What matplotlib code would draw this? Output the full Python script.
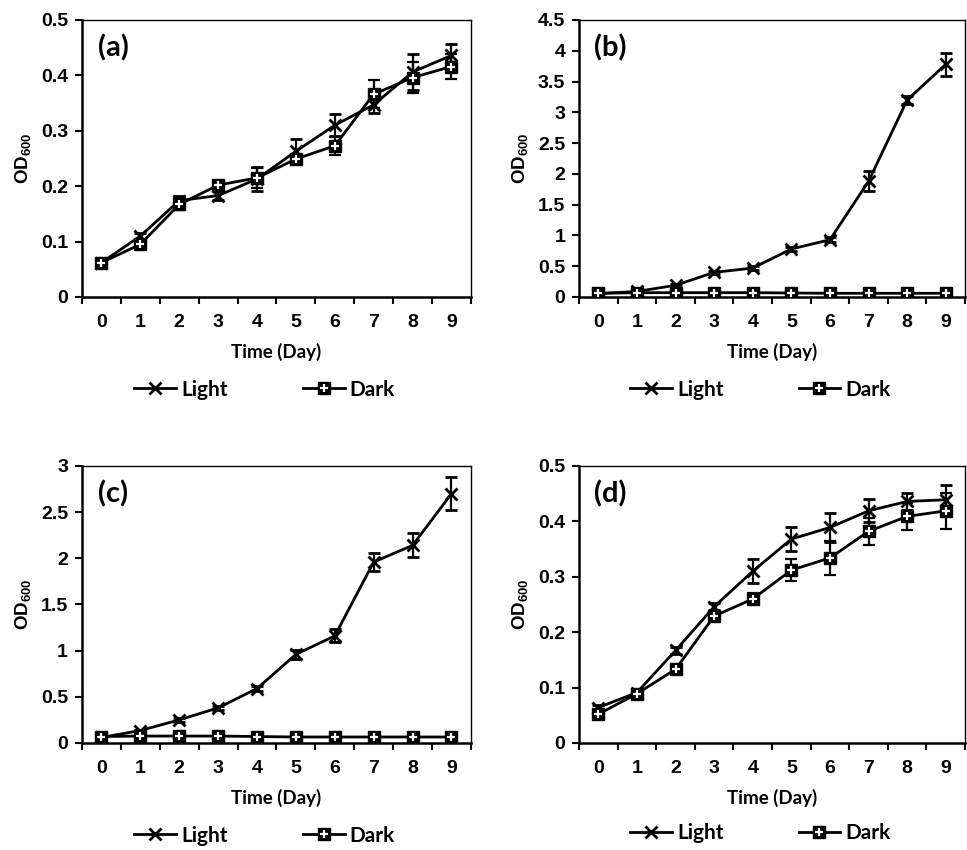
import matplotlib
matplotlib.use("Agg")
import matplotlib.pyplot as plt
from matplotlib.lines import Line2D
from matplotlib.legend_handler import HandlerTuple
from matplotlib.ticker import FuncFormatter, FixedLocator

plt.rcParams['mathtext.default'] = 'regular'
plt.rcParams['font.family'] = ['Liberation Sans', 'DejaVu Sans']
plt.rcParams['font.weight'] = 'bold'
plt.rcParams['axes.labelweight'] = 'bold'

days = [0, 1, 2, 3, 4, 5, 6, 7, 8, 9]
day_labels = ['0', '1', '2', '3', '4', '5', '6', '7', '8', '9']

# Panel (a)
a_light = [0.062, 0.110, 0.174, 0.183, 0.213, 0.263, 0.310, 0.347, 0.406, 0.436]
a_light_err = [0.005, 0.005, 0.008, 0.008, 0.022, 0.022, 0.020, 0.015, 0.033, 0.021]
a_dark = [0.062, 0.095, 0.167, 0.202, 0.215, 0.249, 0.273, 0.366, 0.396, 0.416]
a_dark_err = [0.006, 0.006, 0.010, 0.006, 0.018, 0.008, 0.016, 0.025, 0.028, 0.022]

# Panel (b)
b_light = [0.055, 0.09, 0.19, 0.40, 0.47, 0.78, 0.93, 1.88, 3.20, 3.78]
b_light_err = [0.01, 0.01, 0.02, 0.03, 0.03, 0.04, 0.04, 0.16, 0.06, 0.19]
b_dark = [0.06, 0.07, 0.07, 0.07, 0.07, 0.065, 0.06, 0.06, 0.06, 0.06]
b_dark_err = [0.005, 0.005, 0.005, 0.005, 0.005, 0.005, 0.005, 0.005, 0.005, 0.005]

# Panel (c)
c_light = [0.06, 0.135, 0.25, 0.38, 0.59, 0.96, 1.16, 1.96, 2.14, 2.70]
c_light_err = [0.01, 0.01, 0.02, 0.02, 0.03, 0.05, 0.07, 0.10, 0.13, 0.18]
c_dark = [0.07, 0.075, 0.075, 0.075, 0.07, 0.065, 0.065, 0.065, 0.065, 0.065]
c_dark_err = [0.005, 0.005, 0.005, 0.005, 0.005, 0.005, 0.005, 0.005, 0.005, 0.005]

# Panel (d)
d_light = [0.064, 0.091, 0.167, 0.246, 0.310, 0.368, 0.389, 0.419, 0.436, 0.439]
d_light_err = [0.004, 0.004, 0.006, 0.006, 0.022, 0.021, 0.026, 0.021, 0.015, 0.027]
d_dark = [0.052, 0.089, 0.133, 0.229, 0.260, 0.312, 0.334, 0.382, 0.409, 0.419]
d_dark_err = [0.004, 0.004, 0.006, 0.006, 0.010, 0.020, 0.030, 0.024, 0.025, 0.032]

panels = [
    ('(a)', a_light, a_light_err, a_dark, a_dark_err, 0.5, 0.1),
    ('(b)', b_light, b_light_err, b_dark, b_dark_err, 4.5, 0.5),
    ('(c)', c_light, c_light_err, c_dark, c_dark_err, 3.0, 0.5),
    ('(d)', d_light, d_light_err, d_dark, d_dark_err, 0.5, 0.1),
]

positions = [
    [0.0848, 0.6506, 0.4022, 0.3259],
    [0.5988, 0.6506, 0.3992, 0.3259],
    [0.0848, 0.1259, 0.4022, 0.3259],
    [0.5988, 0.1259, 0.3992, 0.3259],
]
legend_y = [-0.335, -0.335, -0.335, -0.325]

fig = plt.figure(figsize=(9.67, 8.5), dpi=100)

cal_font = 'Lato'

for (label, light, light_err, dark, dark_err, ymax, ystep), pos, ly in zip(panels, positions, legend_y):
    ax = fig.add_axes(pos)
    ax.errorbar(days, light, yerr=light_err, color='black', lw=2.0,
                marker='x', ms=9, mew=2.0, capsize=4, elinewidth=1.6,
                capthick=1.6, zorder=3)
    ax.errorbar(days, dark, yerr=dark_err, color='black', lw=2.0,
                marker='s', ms=8, mfc='black', mec='black', capsize=4,
                elinewidth=1.6, capthick=1.6, zorder=4)
    ax.plot(days, dark, ls='none', marker='+', ms=6, mew=1.6,
            color='white', zorder=5)

    ax.set_xlim(-0.5, 9.5)
    ax.set_ylim(0, ymax)
    n = int(round(ymax / ystep))
    yt = [round(i * ystep, 3) for i in range(n + 1)]
    ax.set_yticks(yt)
    ax.yaxis.set_major_formatter(FuncFormatter(lambda v, p: '%g' % v))
    ax.set_xticks(days)
    ax.set_xticklabels(day_labels)
    ax.xaxis.set_minor_locator(FixedLocator([i - 0.5 for i in range(11)]))
    ax.tick_params(axis='x', which='major', length=0, pad=12, labelsize=14)
    ax.tick_params(axis='x', which='minor', length=5, width=1.5, direction='out')
    ax.tick_params(axis='y', which='major', length=5, width=1.5, direction='out',
                   pad=5, labelsize=14)
    for s in ['left', 'bottom']:
        ax.spines[s].set_linewidth(1.8)
    for s in ['top', 'right']:
        ax.spines[s].set_linewidth(1.0)

    ax.set_xlabel('Time (Day)', fontfamily=cal_font, fontweight='bold',
                  fontsize=13.5, labelpad=9)
    ax.set_ylabel('OD$_{600}$', fontweight='bold', fontsize=13.5, labelpad=6)
    ax.text(0.04, 0.90, label, transform=ax.transAxes, fontfamily=cal_font,
            fontweight='bold', fontsize=21, va='center', ha='left')

    h_light = Line2D([], [], color='black', lw=2.0, marker='x', ms=8, mew=2.0)
    h_sq = Line2D([], [], color='black', lw=2.0, marker='s', ms=8)
    h_plus = Line2D([], [], ls='none', marker='+', ms=6, mew=1.6, color='white')
    ax.legend([h_light, (h_sq, h_plus)], ['Light', 'Dark'],
              handler_map={tuple: HandlerTuple(ndivide=1)},
              loc='center', bbox_to_anchor=(0.47, ly), ncol=2,
              frameon=False, handlelength=2.0, handletextpad=0.25,
              columnspacing=3.6,
              prop={'family': cal_font, 'weight': 'bold', 'size': 15})

fig.savefig('out.png', dpi=100)
